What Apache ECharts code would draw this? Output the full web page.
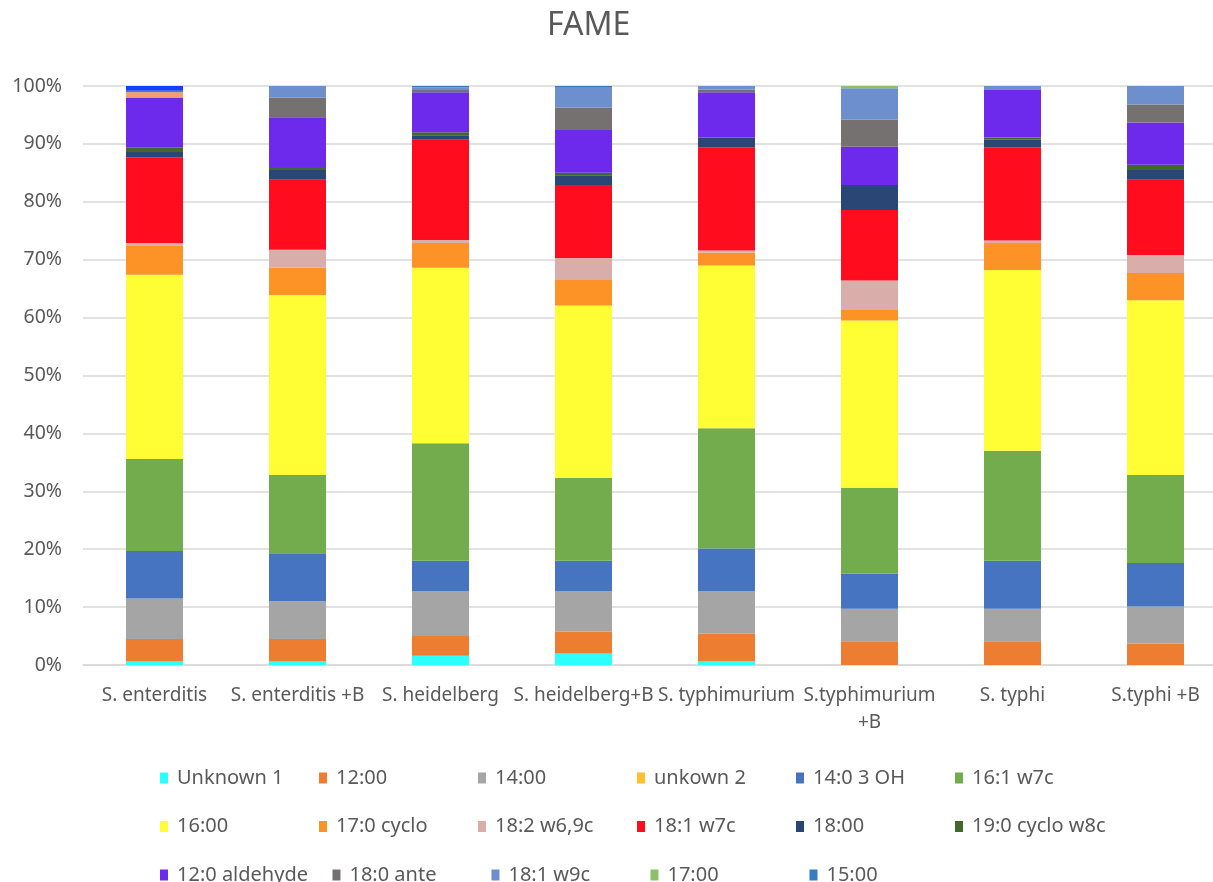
<!DOCTYPE html>
<html>
<head>
<meta charset="utf-8">
<script src="https://cdn.jsdelivr.net/npm/echarts@6/dist/echarts.min.js"></script>
<style>
  html, body { margin: 0; padding: 0; background: #fff; overflow: hidden; }
  /* the reference is cropped on the right, so the plot runs past the window edge */
  #chart { width: 1227px; height: 882px; }
</style>
</head>
<body>
<div id="chart"></div>
<script>
var categories = ['S. enterditis', 'S. enterditis +B', 'S. heidelberg', 'S. heidelberg+B',
  'S. typhimurium', 'S.typhimurium +B', 'S. typhi', 'S.typhi +B'];
var yTicks = [0, 10, 20, 30, 40, 50, 60, 70, 80, 90, 100];

// values in % of total
var unknown1   = [0.6, 0.6, 1.6, 2.0, 0.7, 0, 0, 0];
var c1200      = [3.9, 3.9, 3.4, 3.8, 4.7, 4.1, 4.1, 3.7];
var c1400      = [7.0, 6.5, 7.8, 7.0, 7.4, 5.6, 5.6, 6.4];
var unknown2   = [0, 0, 0, 0, 0, 0, 0, 0];
var c140_3oh   = [8.2, 8.3, 5.2, 5.2, 7.3, 6.1, 8.3, 7.5];
var c161w7c    = [15.9, 13.5, 20.3, 14.3, 20.8, 14.8, 19.0, 15.2];
var c1600      = [31.8, 31.1, 30.3, 29.8, 28.1, 28.9, 31.2, 30.2];
var c170cyclo  = [5.1, 4.7, 4.3, 4.4, 2.2, 1.8, 4.7, 4.7];
var c182w69c   = [0.4, 3.1, 0.5, 3.8, 0.4, 5.1, 0.4, 3.1];
var c181w7c    = [14.8, 12.1, 17.3, 12.6, 17.8, 12.2, 16.1, 13.0];
var c1800      = [0.9, 1.7, 0.8, 1.7, 1.7, 4.3, 1.3, 1.7];
var c190cyclo  = [0.8, 0.5, 0.5, 0.4, 0, 0, 0.4, 0.9];
var c120ald    = [8.6, 8.6, 6.9, 7.4, 7.8, 6.6, 8.2, 7.3];
var c180ante   = [0, 3.4, 0.4, 3.9, 0.5, 4.7, 0, 3.1];
var c181w9c    = [0, 2.0, 0.5, 3.4, 0.6, 5.4, 0.7, 3.2];
var c1700      = [0, 0, 0, 0, 0, 0.4, 0, 0];
var c1500      = [0, 0, 0.2, 0.3, 0, 0, 0, 0];
// series whose legend entries fall below the cropped picture
var extraA     = [0.9, 0, 0, 0, 0, 0, 0, 0];
var extraB     = [0.3, 0, 0, 0, 0, 0, 0, 0];
var extraC     = [0.8, 0, 0, 0, 0, 0, 0, 0];

var seriesDefs = [
  ['Unknown 1', unknown1, '#2EFFFF'],
  ['12:00', c1200, '#ED7D31'],
  ['14:00', c1400, '#A5A5A5'],
  ['unkown 2', unknown2, '#FFC02E'],
  ['14:0 3 OH', c140_3oh, '#4674C1'],
  ['16:1 w7c', c161w7c, '#72AC4D'],
  ['16:00', c1600, '#FFFD33'],
  ['17:0 cyclo', c170cyclo, '#FD9226'],
  ['18:2 w6,9c', c182w69c, '#D9ADAA'],
  ['18:1 w7c', c181w7c, '#FF0D1E'],
  ['18:00', c1800, '#2A4675'],
  ['19:0 cyclo w8c', c190cyclo, '#43682B'],
  ['12:0 aldehyde', c120ald, '#6E2AEC'],
  ['18:0 ante', c180ante, '#767171'],
  ['18:1 w9c', c181w9c, '#6D8FCE'],
  ['17:00', c1700, '#8CC168'],
  ['15:00', c1500, '#347BC0'],
  ['extra A', extraA, '#F4A06C'],
  ['extra B', extraB, '#7A7272'],
  ['extra C', extraC, '#1040FF']
];

var myChart = echarts.init(document.getElementById('chart'));
var txt = '#595959';
var font = 'Noto Sans';

var series = seriesDefs.map(function(s) {
  return {
    name: s[0],
    type: 'bar',
    stack: 'all',
    barWidth: 57,
    data: s[1],
    itemStyle: { color: s[2] },
    emphasis: { disabled: true }
  };
});

var option = {
  animation: false,
  title: {
    text: 'FAME',
    left: 542,
    top: 5,
    textStyle: { color: txt, fontSize: 32, fontWeight: 'normal', fontFamily: font }
  },
  legend: {
    data: seriesDefs.slice(0, 17).map(function(s) { return s[0]; }),
    left: 160,
    top: 766,
    width: 965,
    padding: 0,
    itemWidth: 8,
    itemHeight: 11,
    itemGap: 24.5,
    icon: 'rect',
    textStyle: {
      color: txt, fontSize: 20, fontFamily: font, width: 117.5, lineHeight: 24,
      padding: [0, 0, 0, 4]
    }
  },
  grid: { left: 83, top: 86, right: 0, bottom: 217 },
  xAxis: {
    type: 'category',
    data: categories,
    axisLine: { lineStyle: { color: '#D9D9D9', width: 1.5 } },
    axisTick: { show: false },
    axisLabel: {
      color: txt, fontSize: 19, fontFamily: font, margin: 17, lineHeight: 27, interval: 0,
      formatter: function(v) { return v === 'S.typhimurium +B' ? 'S.typhimurium\n+B' : v; }
    }
  },
  yAxis: {
    type: 'value',
    min: yTicks[0],
    max: yTicks[yTicks.length - 1],
    interval: 10,
    axisLine: { show: false },
    axisTick: { show: false },
    splitLine: { lineStyle: { color: '#D9D9D9', width: 1.5 } },
    axisLabel: { color: txt, fontSize: 19.5, fontFamily: font, margin: 21, formatter: '{value}%' }
  },
  series: series
};
myChart.setOption(option);
</script>
</body>
</html>
